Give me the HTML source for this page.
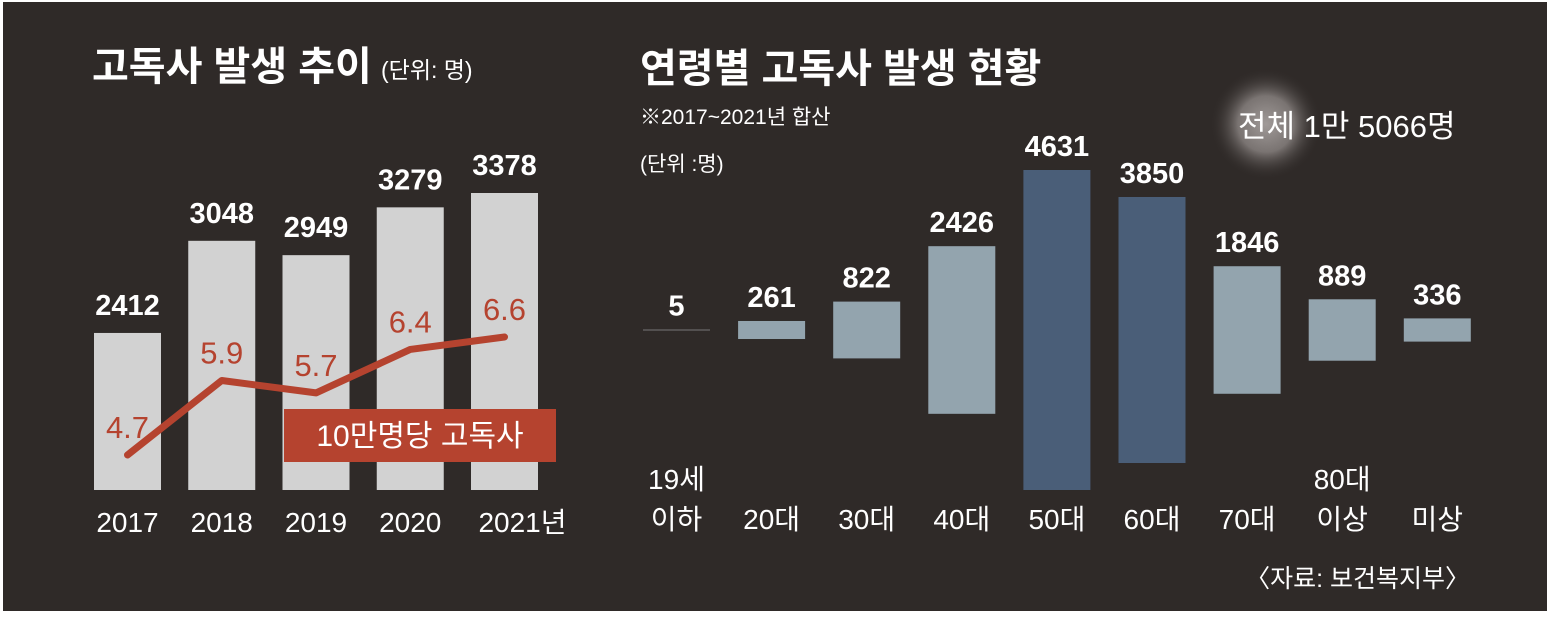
<!DOCTYPE html>
<html><head><meta charset="utf-8">
<style>
html,body{margin:0;padding:0;background:#fff;}
#wrap{position:relative;width:1550px;height:618px;overflow:hidden;background:#fff;}
svg{position:absolute;left:0;top:0;}
text{font-family:"Liberation Sans Narrow","Liberation Sans","Noto Sans CJK KR",sans-serif;}
.kr{font-family:"Liberation Sans Narrow","Liberation Sans","Noto Sans CJK KR",sans-serif;}
</style></head>
<body>
<div id="wrap">
<svg id="chart" width="1550" height="618" viewBox="0 0 1550 618">
  <defs>
    <radialGradient id="glow" cx="50%" cy="50%" r="50%">
      <stop offset="0%" stop-color="#a09a98"/>
      <stop offset="50%" stop-color="#7a7472"/>
      <stop offset="100%" stop-color="#2f2a28" stop-opacity="0"/>
    </radialGradient>
  </defs>
  <rect x="3" y="2" width="1544" height="609" fill="#2f2a28"/>
  <text x="92" y="80" font-size="40" font-weight="bold" fill="#fff" class="kr">고독사 발생 추이</text>
  <text x="381" y="78" font-size="23" fill="#fff" class="kr">(단위: 명)</text>
  <g id="left"></g>
  <rect x="284" y="409" width="272" height="53" fill="#b5432f"/>
  <text x="420" y="446" font-size="30" fill="#fff" text-anchor="middle" class="kr">10만명당 고독사</text>
  <g id="leftline"></g>

  <text x="640" y="82" font-size="40" font-weight="bold" fill="#fff" class="kr">연령별 고독사 발생 현황</text>
  <text x="640" y="124" font-size="21" fill="#fff" class="kr">※2017~2021년 합산</text>
  <text x="640" y="171" font-size="21" fill="#fff" class="kr">(단위 :명)</text>
  <circle cx="1266" cy="124" r="56" fill="url(#glow)"/>
  <text x="1238" y="137" font-size="31" fill="#fff" class="kr">전체 1만 5066명</text>
  <g id="right"></g>
  <text x="1470" y="587" font-size="25" fill="#fff" text-anchor="end" class="kr">〈자료: 보건복지부〉</text>
</svg>
</div>
<script>
const years = ['2017','2018','2019','2020','2021년'];
const deaths = [2412, 3048, 2949, 3279, 3378];
const rates = [4.7, 5.9, 5.7, 6.4, 6.6];
const rateLabels = ['4.7','5.9','5.7','6.4','6.6'];

const ages = [['19세','이하'],['20대'],['30대'],['40대'],['50대'],['60대'],['70대'],['80대','이상'],['미상']];
const ageCounts = [5, 261, 822, 2426, 4631, 3850, 1846, 889, 336];
const ageHighlight = [0,0,0,0,1,1,0,0,0];

const NS='http://www.w3.org/2000/svg';
function mk(tag, attrs, parent, txt){
  const e=document.createElementNS(NS,tag);
  for(const k in attrs) e.setAttribute(k, attrs[k]);
  if(txt!==undefined) e.textContent=txt;
  parent.appendChild(e);
  return e;
}
const base=490;
const yBar = v => base - (v-1328)*(297/2050);
const xBand = i => 94 + i*94.25;
const bw=67;
const yRate = v => 455 - (v-4.7)*62.1;
const L=document.getElementById('left');
deaths.forEach((v,i)=>{
  const r=mk('rect',{x:xBand(i),y:yBar(v),width:bw,height:base-yBar(v),fill:'#d2d2d2'},L);
  
  
  const t=mk('text',{x:xBand(i)+bw/2,y:yBar(v)-18,'font-size':29,'font-weight':'bold',fill:'#fff','text-anchor':'middle'},L,String(v));
  
  
  const y=mk('text',{x:xBand(i)+bw/2 + (i===4?18:0),y:532,'font-size':28,fill:'#fff','text-anchor':'middle'},L,years[i]);
  
  
});
const LL=document.getElementById('leftline');
const pts=rates.map((v,i)=>[xBand(i)+bw/2, yRate(v)]);
const pl=mk('polyline',{points:pts.map(p=>p.join(',')).join(' '),fill:'none',stroke:'#b5432f','stroke-width':7,'stroke-linecap':'round','stroke-linejoin':'round'},LL);


rates.forEach((v,i)=>{
  const t=mk('text',{x:pts[i][0],y:pts[i][1]-17,'font-size':31,fill:'#b5432f','text-anchor':'middle'},LL,rateLabels[i]);
  
  
});
const R=document.getElementById('right');
const mid=330;
const hScale = v => Math.max(1, v*0.0691);
const xr = i => 643 + i*95.1;
ageCounts.forEach((v,i)=>{
  const h=hScale(v);
  const top=mid-h/2;
  const r=mk('rect',{x:xr(i),y:top,width:67,height:h,fill:i===0?'#777':(ageHighlight[i]?'#4a5e78':'#93a4ae')},R);
  
  
  const t=mk('text',{x:xr(i)+33.5,y:top-14,'font-size':29,'font-weight':'bold',fill:'#fff','text-anchor':'middle'},R,String(v));
  
  
  const lines=ages[i];
  lines.forEach((s,j)=>{
    const y=529 - (lines.length-1-j)*40;
    const c=mk('text',{x:xr(i)+33.5,y:y,'font-size':28,fill:'#fff','text-anchor':'middle'},R,s);
    
    
  });
});
</script>
</body></html>
